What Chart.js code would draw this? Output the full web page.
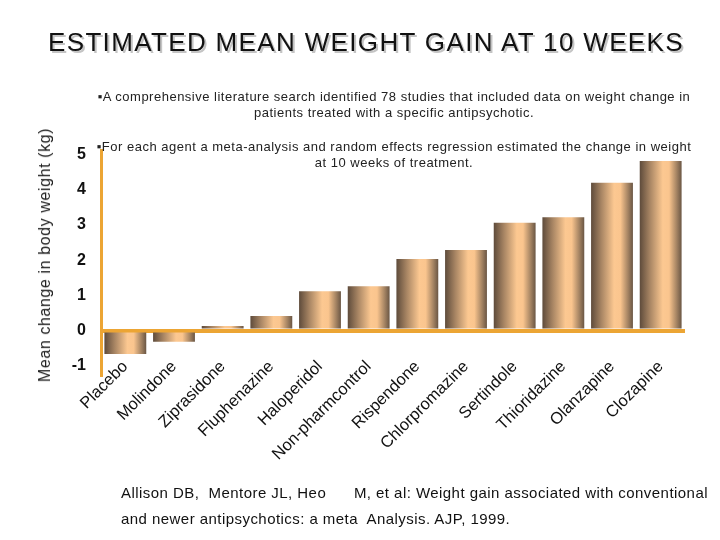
<!DOCTYPE html>
<html>
<head>
<meta charset="utf-8">
<script src="https://cdn.jsdelivr.net/npm/chart.js@4.4.1/dist/chart.umd.min.js"></script>
<style>
    html, body { margin: 0; padding: 0; background: #fff; }
    .slide { position: relative; width: 720px; height: 540px; overflow: hidden; font-family: Arial, "Liberation Sans", sans-serif; }
    .slide canvas { position: absolute; left: 0; top: 0; }
    .title { position: absolute; left: 48px; top: 27px; white-space: nowrap; font-size: 26px; letter-spacing: 1.35px; color: #111; text-shadow: 2px 2px 0 #c4c4c4; }
    .note { position: absolute; left: 94px; width: 600px; text-align: center; font-size: 13px; letter-spacing: 0.5px; line-height: 16px; color: #222; white-space: nowrap; }
    .ytitle { position: absolute; left: 45px; top: 255px; transform: translate(-50%, -50%) rotate(-90deg); white-space: nowrap; font-size: 16px; letter-spacing: 0.6px; color: #222; }
    .ref { position: absolute; left: 121px; font-size: 15px; letter-spacing: 0.45px; color: #111; white-space: pre; }
</style>
</head>
<body>
<div class="slide">
    <canvas id="weight-chart" width="720" height="540"></canvas>
    <div class="title">ESTIMATED MEAN WEIGHT GAIN AT 10 WEEKS</div>
    <div class="note" style="top: 89px;">▪A comprehensive literature search identified 78 studies that included data on weight change in<br>patients treated with a specific antipsychotic.</div>
    <div class="note" style="top: 139px;">▪For each agent a meta-analysis and random effects regression estimated the change in weight<br>at 10 weeks of treatment.</div>
    <div class="ytitle">Mean change in body weight (kg)</div>
    <div class="ref" style="top: 484px;">Allison DB,  Mentore JL, Heo      M, et al: Weight gain associated with conventional</div>
    <div class="ref" style="top: 510px;">and newer antipsychotics: a meta  Analysis. AJP, 1999.</div>
</div>
<script>
    const drugs = ['Placebo', 'Molindone', 'Ziprasidone', 'Fluphenazine', 'Haloperidol', 'Non-pharmcontrol',
        'Rispendone', 'Chlorpromazine', 'Sertindole', 'Thioridazine', 'Olanzapine', 'Clozapine'];
    const weightGain = [-0.67, -0.32, 0.13, 0.41, 1.12, 1.26, 2.03, 2.29, 3.06, 3.22, 4.2, 4.82];
    const yTicks = [-1, 0, 1, 2, 3, 4, 5];

    const orange = '#eca534';
    const barPct = 0.86;
    const labelLift = 28; // category labels sit partly beside the bottom of the axis line

    const barGradient = (ctx) => {
        const chart = ctx.chart;
        const xScale = chart.scales.x;
        if (!chart.chartArea || !xScale) {
            return '#c9a27c';
        }
        const cx = xScale.getPixelForValue(ctx.dataIndex);
        const half = (xScale.width / drugs.length) * barPct / 2;
        const g = chart.ctx.createLinearGradient(cx - half, 0, cx + half, 0);
        g.addColorStop(0, '#5e4b3b');
        g.addColorStop(0.25, '#a98664');
        g.addColorStop(0.55, '#fcc891');
        g.addColorStop(0.7, '#fac58e');
        g.addColorStop(0.88, '#a58463');
        g.addColorStop(1, '#6a5644');
        return g;
    };

    const liftLabels = {
        id: 'liftLabels',
        afterLayout: (chart) => {
            const x = chart.scales.x;
            x.top -= labelLift;
            x.bottom -= labelLift;
        },
    };

    new Chart(document.getElementById('weight-chart'), {
        type: 'bar',
        data: {
            labels: drugs,
            datasets: [{
                data: weightGain,
                backgroundColor: barGradient,
                borderWidth: 0,
                categoryPercentage: 1,
                barPercentage: barPct,
            }],
        },
        plugins: [liftLabels],
        options: {
            responsive: false,
            animation: false,
            layout: { padding: { top: 150, right: 35, left: 0, bottom: 0 } },
            plugins: {
                legend: { display: false },
                tooltip: { enabled: false },
            },
            scales: {
                x: {
                    grid: { display: false },
                    border: { display: false },
                    ticks: {
                        autoSkip: false,
                        minRotation: 45,
                        maxRotation: 45,
                        padding: 0,
                        color: '#111',
                        font: { family: 'Arial', size: 16.5 },
                    },
                    afterFit: (scale) => { scale.height = 163; },
                },
                y: {
                    min: -1.32,
                    max: 5.13,
                    z: 1,
                    afterBuildTicks: (scale) => { scale.ticks = yTicks.map((value) => ({ value })); },
                    grid: {
                        drawTicks: false,
                        color: (c) => (c.tick && c.tick.value === 0 ? orange : 'rgba(0,0,0,0)'),
                        lineWidth: (c) => (c.tick && c.tick.value === 0 ? 4 : 0),
                    },
                    border: { display: true, color: orange, width: 3 },
                    ticks: {
                        padding: 15,
                        color: '#111',
                        font: { family: 'Arial', size: 16, weight: 'bold' },
                    },
                    afterFit: (scale) => { scale.width = 101; },
                },
            },
        },
    });
</script>
</body>
</html>
